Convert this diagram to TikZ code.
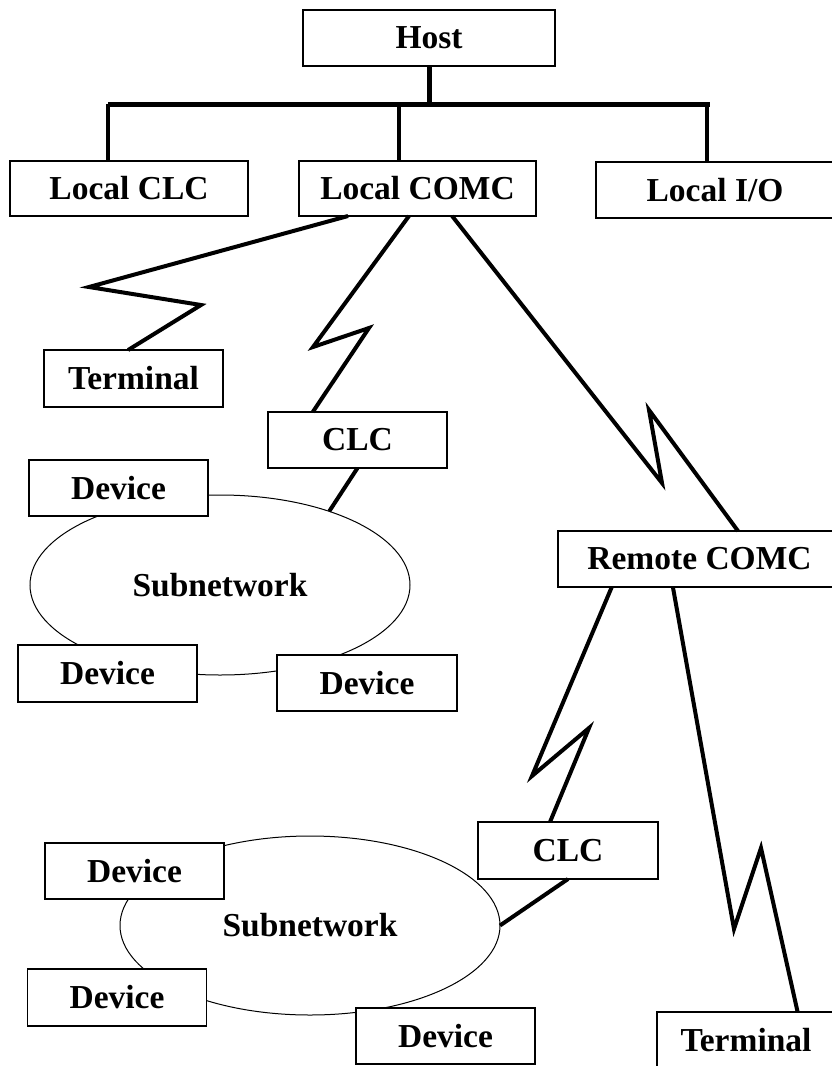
\documentclass[tikz,border=0pt]{standalone}
\usepackage{fontspec}
\setmainfont{Liberation Serif}
\usetikzlibrary{shapes.geometric,calc}
\begin{document}
\begin{tikzpicture}[x=1pt,y=-1pt,
  box/.style={draw, line width=1.4pt, fill=white, inner sep=0pt, outer sep=0pt,
    font=\bfseries\fontsize{33.5}{40}\selectfont},
  net/.style={ellipse, draw, line width=1pt, inner sep=0pt, outer sep=0pt,
    font=\bfseries\fontsize{33.5}{40}\selectfont},
  link/.style={line width=4pt, line join=miter},
  bus/.style={line width=5pt}]
\useasboundingbox (0,0) rectangle (832,1066);
\clip (0,0) rectangle (832,1066);

% subnetworks
\node[net, minimum width=380pt, minimum height=180pt] (sub1) at (220,585) {Subnetwork};
\node[net, minimum width=380pt, minimum height=179pt] (sub2) at (310,925.5) {Subnetwork};

% boxes
\node[box, minimum width=252pt, minimum height=56pt] (host) at (429,38) {Host};
\node[box, minimum width=238pt, minimum height=55pt] (lclc) at (129,188.5) {Local CLC};
\node[box, minimum width=237pt, minimum height=55pt] (lcomc) at (417.5,188.5) {Local COMC};
\node[box, minimum width=238pt, minimum height=56pt] (lio) at (715,190) {Local I/O};
\node[box, minimum width=179pt, minimum height=57pt] (term1) at (133.5,378.5) {Terminal};
\node[box, minimum width=179pt, minimum height=56pt] (clc1) at (357.5,440) {CLC};
\node[box, minimum width=179pt, minimum height=56pt] (dev1) at (118.5,488) {Device};
\node[box, minimum width=179pt, minimum height=57pt] (dev2) at (107.5,673.5) {Device};
\node[box, minimum width=180pt, minimum height=56pt] (dev3) at (367,683) {Device};
\node[box, minimum width=283pt, minimum height=56pt] (rcomc) at (699.5,559) {Remote COMC};
\node[box, minimum width=180pt, minimum height=57pt] (clc2) at (568,850.5) {CLC};
\node[box, minimum width=179pt, minimum height=56pt] (dev4) at (134.5,871) {Device};
\node[box, minimum width=179pt, minimum height=57pt] (dev5) at (117,997.5) {Device};
\node[box, minimum width=179pt, minimum height=56pt] (dev6) at (445.5,1036) {Device};
\node[box, minimum width=178pt, minimum height=56pt] (term2) at (746,1040) {Terminal};

% host bus
\coordinate (busL) at (108,104);
\coordinate (busR) at (710,104);
\coordinate (dropC) at (399,104);
\coordinate (dropR) at (707,104);
\draw[bus] (host.south) -- (host.south |- busL);
\draw[bus] (busL) -- (busR);
\draw[link] (busL) -- (busL |- lclc.north);
\draw[link] (dropC) -- (dropC |- lcomc.north);
\draw[link] (dropR) -- (dropR |- lio.north);

% zigzag vertices
\coordinate (t1a) at (89,287);
\coordinate (t1b) at (201,305);
\coordinate (c1a) at (313,347);
\coordinate (c1b) at (369,328);
\coordinate (ra) at (662,483);
\coordinate (rb) at (649,410);
\coordinate (c2a) at (532,776);
\coordinate (c2b) at (589,728);
\coordinate (t2a) at (734,929);
\coordinate (t2b) at (761,848);

% connectors
\draw[link] ($(lcomc.south west)!0.207!(lcomc.south east)$) -- (t1a) -- (t1b)
  -- ($(term1.north west)!0.47!(term1.north east)$);
\draw[link] ($(lcomc.south west)!0.464!(lcomc.south east)$) -- (c1a) -- (c1b)
  -- ($(clc1.north west)!0.25!(clc1.north east)$);
\draw[link] ($(lcomc.south west)!0.646!(lcomc.south east)$) -- (ra) -- (rb)
  -- ($(rcomc.north west)!0.636!(rcomc.north east)$);
\draw[link] (clc1.south) -- (sub1.34);
\draw[link] ($(rcomc.south west)!0.19!(rcomc.south east)$) -- (c2a) -- (c2b)
  -- ($(clc2.north west)!0.4!(clc2.north east)$);
\draw[link] ($(rcomc.south west)!0.406!(rcomc.south east)$) -- (t2a) -- (t2b)
  -- ($(term2.north west)!0.79!(term2.north east)$);
\draw[link] (clc2.south) -- (sub2.east);
\end{tikzpicture}
\end{document}
